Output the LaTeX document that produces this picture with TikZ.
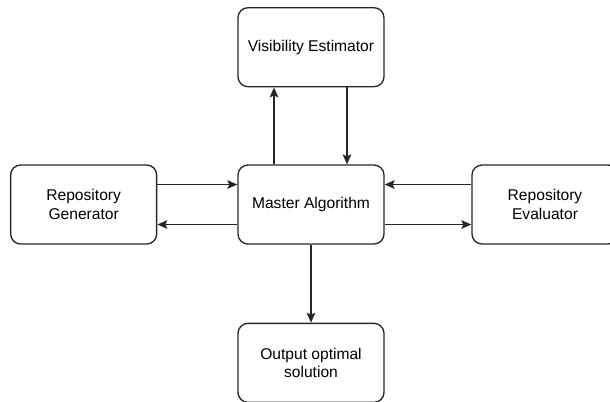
\documentclass[tikz,border=0pt]{standalone}
\usepackage{fontspec}
\setmainfont{Liberation Sans}
\usetikzlibrary{arrows.meta,positioning}

\begin{document}
\begin{tikzpicture}[
  font=\fontsize{11.7}{13.8}\selectfont,
  block/.style={draw=black!85, line width=1pt, rounded corners=7.5pt,
    minimum width=109.5pt, minimum height=59.25pt, align=center, inner sep=2pt},
  arrow/.style={-{Stealth[length=7.5pt,width=6.5pt,inset=1.5pt]}, line width=1pt, draw=black!85}
]
  \useasboundingbox (-233.25pt,-148.1pt) rectangle (224.25pt,153.4pt);

  \node[block] (master) {Master Algorithm};
  \node[block, above=57.75pt of master] (visib) {Visibility Estimator};
  \node[block, left=60pt of master] (gen) {Repository\\Generator};
  \node[block, right=65pt of master] (eval) {Repository\\Evaluator};
  \node[block, below=58.5pt of master] (out) {Output optimal\\solution};

  \draw[arrow] ([xshift=-27.75pt]master.north) -- ([xshift=-27.75pt]visib.south);
  \draw[arrow] ([xshift=27pt]visib.south) -- ([xshift=27pt]master.north);
  \draw[arrow] ([yshift=15pt]gen.east) -- ([yshift=15pt]master.west);
  \draw[arrow] ([yshift=-15pt]master.west) -- ([yshift=-15pt]gen.east);
  \draw[arrow] ([yshift=15pt]eval.west) -- ([yshift=15pt]master.east);
  \draw[arrow] ([yshift=-15pt]master.east) -- ([yshift=-15pt]eval.west);
  \draw[arrow] (master) -- (out);
\end{tikzpicture}
\end{document}
